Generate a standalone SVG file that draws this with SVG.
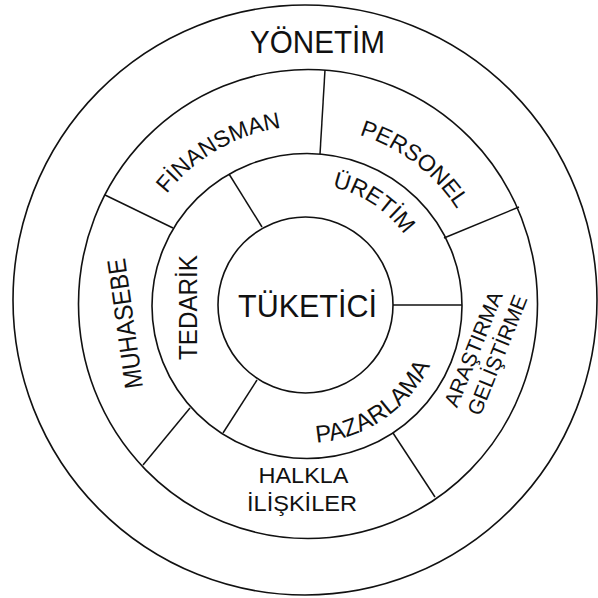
<svg xmlns="http://www.w3.org/2000/svg" width="598" height="598" viewBox="0 0 598 598">
<style>
.ring{fill:none;stroke:#111;stroke-width:1.6}
.div{stroke:#111;stroke-width:1.5;fill:none}
.lbl{font-family:"Liberation Sans",Arial,sans-serif;fill:#111;text-anchor:middle}
</style>
<defs>
<path id="p-fin" d="M138.8,243.8 A179,179 0 0 1 338.1,128.7"/>
<path id="p-per" d="M298.5,127.2 A178,178 0 0 1 480.6,265.7"/>
<path id="p-ure" d="M292.3,184.8 A121,121 0 0 1 422,270.6"/>
<path id="p-paz" d="M282.5,441 A138,138 0 0 0 441.1,333.2"/>
</defs>
<rect width="598" height="598" fill="#fff"/>
<g id="yonetim">
<ellipse class="ring" cx="305" cy="300" rx="292" ry="295"/>
<text class="lbl" x="317.5" y="53" font-size="32" textLength="135" lengthAdjust="spacingAndGlyphs">YÖNETİM</text>
</g>
<g id="rings">
<ellipse class="ring" cx="308" cy="304" rx="229.5" ry="234.5"/>
<ellipse class="ring" cx="307" cy="306" rx="155" ry="152.5"/>
</g>
<g id="connectors">
<line class="div" x1="325" y1="70" x2="320" y2="154"/>
<line class="div" x1="105" y1="195" x2="173" y2="228"/>
<line class="div" x1="519" y1="207" x2="444" y2="238"/>
<line class="div" x1="143" y1="465" x2="190" y2="408"/>
<line class="div" x1="435" y1="497" x2="393" y2="433"/>
<line class="div" x1="229" y1="174" x2="262" y2="227"/>
<line class="div" x1="393" y1="305" x2="462" y2="305"/>
<line class="div" x1="257" y1="380" x2="223" y2="433"/>
</g>
<g id="finansman">
<text class="lbl" font-size="23"><textPath href="#p-fin" startOffset="50%">FİNANSMAN</textPath></text>
</g>
<g id="personel">
<text class="lbl" font-size="23"><textPath href="#p-per" startOffset="50%">PERSONEL</textPath></text>
</g>
<g id="arastirma-gelistirme">
<text class="lbl" font-size="21" transform="translate(473,349) rotate(-68)" x="0" y="7.5">ARAŞTIRMA</text>
<text class="lbl" font-size="21" transform="translate(497,355) rotate(-68)" x="0" y="7.5">GELİŞTİRME</text>
</g>
<g id="halkla-iliskiler">
<text class="lbl" x="303.5" y="483" font-size="22" textLength="90" lengthAdjust="spacingAndGlyphs">HALKLA</text>
<text class="lbl" x="302" y="511" font-size="22" textLength="110" lengthAdjust="spacingAndGlyphs">İLİŞKİLER</text>
</g>
<g id="muhasebe">
<text class="lbl" font-size="26" transform="translate(134,322.5) rotate(-98)" x="0" y="0" textLength="131" lengthAdjust="spacingAndGlyphs">MUHASEBE</text>
</g>
<g id="tedarik">
<text class="lbl" font-size="25" transform="translate(197,307.5) rotate(-90)" x="0" y="0" textLength="105" lengthAdjust="spacingAndGlyphs">TEDARİK</text>
</g>
<g id="uretim">
<text class="lbl" font-size="23"><textPath href="#p-ure" startOffset="50%">ÜRETİM</textPath></text>
</g>
<g id="pazarlama">
<text class="lbl" font-size="24"><textPath href="#p-paz" startOffset="50%">PAZARLAMA</textPath></text>
</g>
<g id="tuketici">
<ellipse class="ring" cx="305.5" cy="305" rx="87.5" ry="88"/>
<text class="lbl" x="307.5" y="317" font-size="32" textLength="139" lengthAdjust="spacingAndGlyphs">TÜKETİCİ</text>
</g>
</svg>
